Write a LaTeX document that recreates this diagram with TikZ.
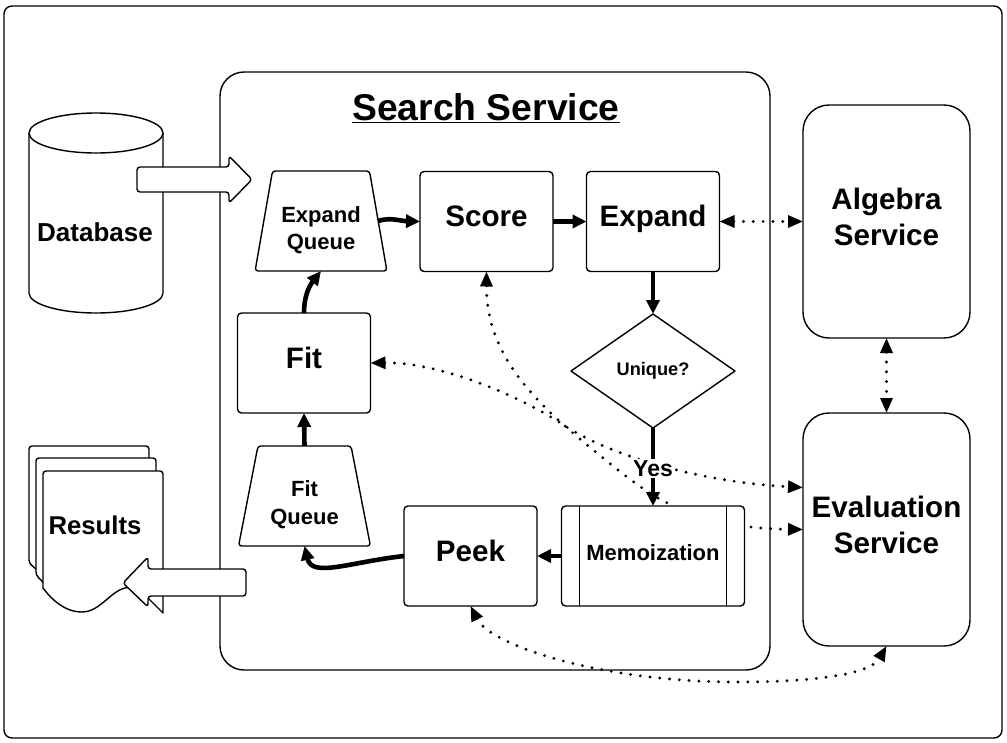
\documentclass[tikz,border=0pt]{standalone}
\usepackage{fontspec}
\setmainfont{Liberation Sans}
\usetikzlibrary{arrows.meta,shapes.geometric}

\tikzset{
	outline/.style={draw, line width=1.4pt, line join=round, outer sep=0pt},
	box/.style={outline, fill=white, rounded corners=4pt, minimum width=133pt, minimum height=100pt, inner sep=0pt, font=\fontsize{29.6}{33}\bfseries, text height=22pt, text depth=12pt},
	service/.style={outline, fill=white, rounded corners=26pt, minimum width=167pt, minimum height=233pt, inner sep=0pt, font=\fontsize{29.6}{33}\bfseries},
	queue/.style={outline, fill=white, shape=trapezium, rounded corners=3pt, trapezium stretches=true, trapezium angle=75.7, minimum width=132pt, minimum height=100pt, inner sep=0pt, font=\fontsize{22}{25}\bfseries},
	thick arrow/.style={line width=4.6pt, -{Triangle[length=14pt,width=13pt]}},
	dots/.style={line width=3.2pt, line cap=round, dash pattern=on 0pt off 9.8pt, {Triangle[length=15pt,width=12pt,line cap=butt]}-{Triangle[length=15pt,width=12pt,line cap=butt]}},
	block arrow/.style={outline, fill=white, rounded corners=3pt},
}

\begin{document}
\begin{tikzpicture}[x=1pt,y=1pt]
	\useasboundingbox (0,-742) rectangle (1007,0);

	\draw[outline, rounded corners=8pt] (4,-6) rectangle (1002,-738);
	\draw[outline, rounded corners=24pt] (220,-72) rectangle (770,-670);
	\node[font=\fontsize{37.3}{41}\bfseries, inner sep=2pt] (title) at (486,-108) {\underline{Search Service}};

	% database
	\draw[outline, fill=white] (29,-133) -- (29,-293) arc[start angle=180, end angle=360, x radius=67pt, y radius=20pt] -- (163,-133);
	\draw[outline, fill=white] (96,-133) ellipse[x radius=67pt, y radius=20pt];
	\node[font=\fontsize{26}{29}\bfseries, inner sep=0pt] (database) at (95,-232) {Database};

	% results
	\draw[outline, fill=white, rounded corners=3pt] (29,-563) -- (29,-446) -- (149,-446) -- (149,-480) -- (60,-590) -- cycle;
	\draw[outline, fill=white, rounded corners=3pt] (36,-575) -- (36,-458) -- (156,-458) -- (156,-490) -- (60,-600) -- cycle;
	\draw[outline, fill=white] (43,-588) [rounded corners=3pt] -- (43,-471) -- (163,-471) [sharp corners] -- (163,-613) -- (140,-590) .. controls (115,-578) and (105,-612) .. (82,-612) .. controls (65,-612) and (52,-600) .. (43,-588);
	\node[font=\fontsize{25.7}{29}\bfseries, inner sep=0pt] (results) at (95,-525) {Results};

	\node[queue, text height=56pt, text depth=0pt] (expandqueue) at (321,-221) {\shortstack{Expand\\[4pt]Queue}};
	\node[box] (score) at (486.5,-221.5) {Score};
	\node[box] (expand) at (653,-221.5) {Expand};
	\node[box] (fit) at (304,-363) {Fit};
	\node[queue, text height=56pt, text depth=0pt] (fitqueue) at (304.5,-496) {\shortstack{Fit\\[9pt]Queue}};
	\node[box] (peek) at (470.5,-556) {Peek};
	\node[outline, fill=white, shape=diamond, aspect=1.44, minimum width=164pt, minimum height=114pt, inner sep=0pt, font=\fontsize{18.2}{22}\bfseries] (unique) at (653,-371) {Unique?};
	\node[service, text height=60pt, text depth=12pt] (algebra) at (886.5,-221.5) {\shortstack{Algebra\\[5pt]Service}};
	\node[service, text height=59pt, text depth=12pt] (evaluation) at (886.5,-529.5) {\shortstack{Evaluation\\[10.5pt]Service}};

	\coordinate (scorebend) at (613,-466);
	\coordinate (fitbend) at (562,-424);
	\coordinate (peekbend) at (737,-682);

	% dotted links, the memoization box sits on top of the first one
	\draw[dots] (score.south) .. controls (486,-365) and (550,-415) .. (scorebend) .. controls (650,-495) and (690,-528) .. (evaluation.west);
	\draw[dots] (fit.east) .. controls (440,-362) and (520,-396) .. (fitbend) .. controls (610,-456) and (700,-482) .. ([yshift=42pt]evaluation.west);
	\draw[dots] (expand.east) -- (expand.east -| algebra.west);
	\draw[dots] (algebra.south) -- (evaluation.north);
	\draw[dots] (peek.south) .. controls (490,-645) and (600,-682) .. (peekbend) .. controls (810,-682) and (870,-675) .. (evaluation.south);

	\node[box, minimum width=183pt, font=\fontsize{22}{25}\bfseries, text height=18pt, text depth=10pt] (memo) at (653,-556) {Memoization};
	\draw[outline] ([xshift=18pt]memo.north west) -- ([xshift=18pt]memo.south west);
	\draw[outline] ([xshift=-18pt]memo.north east) -- ([xshift=-18pt]memo.south east);

	\draw[thick arrow] (expandqueue.east) .. controls (390,-217) and (400,-221) .. (score.west);
	\draw[thick arrow] (score.east) -- (expand.west);
	\draw[thick arrow] (expand.south) -- (unique.north);
	\draw[thick arrow] (unique.south) -- node[fill=white, inner sep=1pt, yshift=-1.5pt, font=\fontsize{23}{26}\bfseries, pos=.5] (yes) {Yes} (memo.north);
	\draw[thick arrow] (memo.west) -- (peek.east);
	\draw[thick arrow] (peek.west) .. controls (350,-562) and (312,-578) .. (fitqueue.south);
	\draw[thick arrow] (fitqueue.north) -- (fit.south);
	\draw[thick arrow] (fit.north) .. controls (304,-295) and (310,-285) .. (expandqueue.south);

	% block arrows
	\draw[block arrow] (137,-167) -- (229,-167) -- (229,-156) -- (252,-179.5) -- (229,-203) -- (229,-192) -- (137,-192) -- cycle;
	\draw[block arrow] (246,-569) -- (148,-569) -- (148,-557) -- (123,-583) -- (148,-607) -- (148,-596) -- (246,-596) -- cycle;
\end{tikzpicture}
\end{document}
